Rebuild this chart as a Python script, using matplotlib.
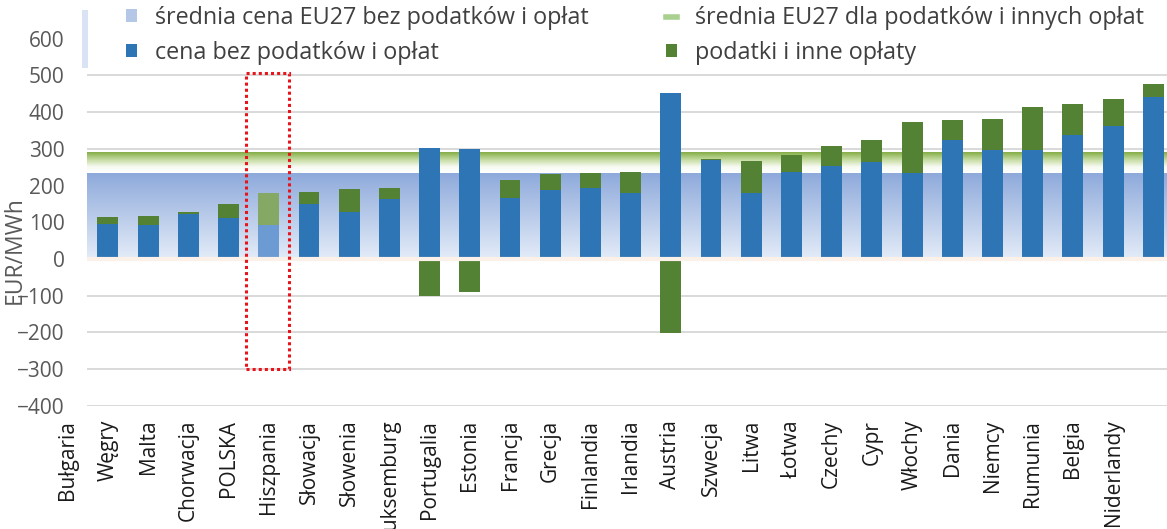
import matplotlib
matplotlib.use('Agg')
import numpy as np
import matplotlib.pyplot as plt
from matplotlib.patches import Patch, Rectangle
from matplotlib.lines import Line2D
from matplotlib.colors import LinearSegmentedColormap

countries = ['Bułgaria', 'Węgry', 'Malta', 'Chorwacja', 'POLSKA', 'Hiszpania',
             'Słowacja', 'Słowenia', 'Luksemburg', 'Portugalia', 'Estonia',
             'Francja', 'Grecja', 'Finlandia', 'Irlandia', 'Austria', 'Szwecja',
             'Litwa', 'Łotwa', 'Czechy', 'Cypr', 'Włochy', 'Dania', 'Niemcy',
             'Rumunia', 'Belgia', 'Niderlandy']

# bar series sit one slot to the right of the label row
bar_pos = list(range(1, 28))
price_net = [95, 93, 123, 111, 93, 150, 129, 163, 302, 300, 167, 188, 193, 179,
             453, 270, 179, 238, 252, 265, 233, 324, 297, 297, 338, 361, 442]
taxes = [20, 24, 4, 38, 86, 33, 62, 31, -100, -91, 48, 44, 40, 59,
         -203, 2, 89, 45, 56, 58, 141, 55, 84, 116, 83, 75, 35]

eu_avg_price = 233
eu_avg_taxes = 57
highlight = 5
yticks = [-400, -300, -200, -100, 0, 100, 200, 300, 400, 500, 600]

plt.rcParams['font.family'] = ['Open Sans', 'DejaVu Sans']

fig = plt.figure(figsize=(11.67, 5.29), dpi=100)
ax = fig.add_axes([0.0745, 0.2329, 0.9255, 0.6938])
xlim = (0.478, 27.34)
ylim = (-400, 600)

for v in yticks[:-1]:
    ax.axhline(v, color='#d9d9d9', lw=1.4, zorder=0)

# EU27 averages as gradient-filled bands
grad = np.linspace(0, 1, 256).reshape(-1, 1)
blue_cmap = LinearSegmentedColormap.from_list('eu_price', ['#e4ecf8', '#8eaadb'])
green_cmap = LinearSegmentedColormap.from_list(
    'eu_tax', [(0, '#ffffff'), (0.3, '#f7faf2'), (0.65, '#c3da9e'), (1, '#84ad46')])
ax.imshow(grad, cmap=blue_cmap, origin='lower', aspect='auto', zorder=1,
          extent=(xlim[0], xlim[1], 0, eu_avg_price))
ax.imshow(grad, cmap=green_cmap, origin='lower', aspect='auto', zorder=1,
          extent=(xlim[0], xlim[1], eu_avg_price, eu_avg_price + eu_avg_taxes))

blue_c = ['#6b9bd2' if p == highlight else '#2e75b6' for p in bar_pos]
green_c = ['#85a864' if p == highlight else '#548235' for p in bar_pos]
bottoms = [b if t > 0 else 0 for b, t in zip(price_net, taxes)]
ax.bar(bar_pos, price_net, width=0.52, color=blue_c, zorder=2)
ax.bar(bar_pos, taxes, width=0.52, bottom=bottoms, color=green_c, zorder=2)
ax.axhline(0, color='#fbf1e8', lw=3, zorder=3)

ax.add_patch(Rectangle((highlight - 0.57, -300), 1.07, 807, fill=False,
                       ec='#e8141b', lw=2.2, ls=(0, (1, 1)), zorder=4))

ax.set_xlim(xlim)
ax.set_ylim(ylim)
ax.set_xticks([])
ax.set_yticks(yticks)
ax.tick_params(axis='y', length=0, pad=16, labelsize=15, labelcolor='#595959')
for s in ax.spines.values():
    s.set_visible(False)

for i, name in enumerate(countries):
    ax.text(i, -0.038, name, transform=ax.get_xaxis_transform(), rotation=90,
            ha='center', va='top', fontsize=15, color='#1a1a1a', clip_on=False)

fig.text(15 / 1167, 1 - 250 / 529, 'EUR/MWh', rotation=90, ha='center',
         va='center', fontsize=16.5, color='#595959')

leg_kw = dict(loc='upper left', frameon=False, fontsize=16.8, handlelength=0.45,
              handleheight=0.45, handletextpad=0.8, labelspacing=0.47,
              borderpad=0, borderaxespad=0, labelcolor='#404040')
fig.legend(handles=[Patch(fc='#b4c7e7'), Patch(fc='#2e75b6')],
           labels=['średnia cena EU27 bez podatków i opłat', 'cena bez podatków i opłat'],
           bbox_to_anchor=(126 / 1167, 1 - 6 / 529), **leg_kw)
fig.legend(handles=[Line2D([0], [0], color='#a9d08e', lw=4), Patch(fc='#548235')],
           labels=['średnia EU27 dla podatków i innych opłat', 'podatki i inne opłaty'],
           bbox_to_anchor=(666 / 1167, 1 - 6 / 529), **leg_kw)

fig.add_artist(Rectangle((82 / 1167, 1 - 68 / 529), 6 / 1167, 58 / 529,
                         transform=fig.transFigure, fc='#dae3f4', ec='none'))

fig.savefig('out.png', dpi=100)
plt.close(fig)
